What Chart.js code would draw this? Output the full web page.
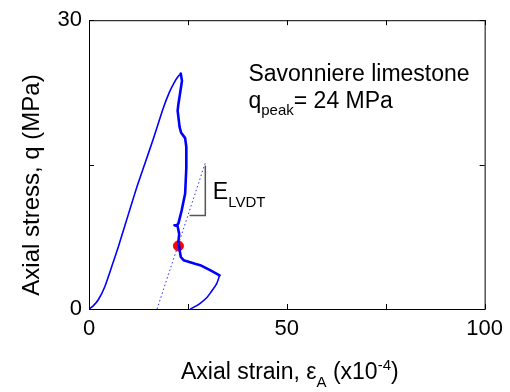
<!DOCTYPE html>
<html>
<head>
<meta charset="utf-8">
<script src="https://cdn.jsdelivr.net/npm/chart.js@4"></script>
<style>
  html, body { margin: 0; padding: 0; background: #fff; }
  #wrap { width: 510px; height: 392px; }
</style>
</head>
<body>
<div id="wrap"><canvas id="chart"></canvas></div>
<script>
// loading branch (thin)
const loadStrain = [0, 1.0, 2.35, 4.05, 5.75, 7.4, 9.1, 10.6, 12.2, 14.2, 16.2, 18.8, 20.3, 21.5, 22.6, 23.2];
const loadStress = [0, 0.3, 0.96, 2.37, 4.41, 6.45, 8.7, 10.7, 12.8, 15.2, 17.6, 20.9, 22.5, 23.5, 24.2, 24.45];

// post-peak branch (thick)
const postStrain = [23.2, 23.5, 22.6, 22.4, 22.9, 23.3, 24.3, 24.6, 24.6, 24.3, 23.4, 22.6, 22.2, 21.6, 22.4, 22.8, 22.6, 23.0, 23.2, 23.9, 26.8, 28.1, 30.6, 33.0];
const postStress = [24.45, 23.7, 21.3, 20.6, 18.9, 18.3, 17.75, 16.8, 14.7, 12.0, 10.2, 8.9, 8.7, 8.7, 8.6, 7.8, 7.0, 5.9, 5.4, 5.07, 4.7, 4.55, 4.03, 3.5];

// unloading branch (thin)
const unloadStrain = [33.0, 32.3, 30.6, 29.8, 28.1, 27.0, 25.6];
const unloadStress = [3.5, 2.66, 1.62, 1.2, 0.59, 0.3, 0.0];

// LVDT modulus line and its triangle
const lvdtStrain = [17.2, 29.4];
const lvdtStress = [0, 15.2];
const triStrain = [25.4, 29.4, 29.4];
const triStress = [9.7, 9.7, 14.9];

// marked point
const markStrain = [22.6];
const markStress = [6.55];

const xTickValues = [0, 25, 50, 75, 100];
const xTickLabels = ['0', '', '50', '', '100'];
const yTickValues = [0, 15, 30];
const yTickLabels = ['0', '', '30'];

const FONT = '"Liberation Sans", Arial, sans-serif';

const pts = (xs, ys) => xs.map((x, i) => ({ x, y: ys[i] }));

// draw a run of text pieces with sub/superscripts
function drawRuns(ctx, runs, x, y, align) {
  let total = 0;
  runs.forEach(r => {
    ctx.font = `${r.size}px ${FONT}`;
    r.w = ctx.measureText(r.t).width;
    total += r.w;
  });
  let cx = align === 'center' ? x - total / 2 : x;
  runs.forEach(r => {
    ctx.font = `${r.size}px ${FONT}`;
    ctx.fillText(r.t, cx, y + (r.dy || 0));
    cx += r.w;
  });
}

const framePlugin = {
  id: 'frame',
  afterDatasetsDraw(chart) {
    const { ctx, chartArea: a, scales: { x, y } } = chart;
    ctx.save();
    ctx.strokeStyle = '#000';
    ctx.lineWidth = 1;
    ctx.strokeRect(a.left + 0.5, a.top + 0.5, a.right - a.left, a.bottom - a.top);
    const len = 5;
    ctx.beginPath();
    xTickValues.forEach(v => {
      const px = Math.round(x.getPixelForValue(v)) + 0.5;
      ctx.moveTo(px, a.bottom); ctx.lineTo(px, a.bottom - len);
      ctx.moveTo(px, a.top); ctx.lineTo(px, a.top + len);
    });
    yTickValues.forEach(v => {
      const py = Math.round(y.getPixelForValue(v)) + 0.5;
      ctx.moveTo(a.left, py); ctx.lineTo(a.left + len, py);
      ctx.moveTo(a.right, py); ctx.lineTo(a.right - len, py);
    });
    ctx.stroke();
    ctx.restore();
  },
  afterDraw(chart) {
    const { ctx, chartArea: a, scales: { x, y } } = chart;
    ctx.save();
    ctx.fillStyle = '#000';
    ctx.textBaseline = 'alphabetic';
    ctx.textAlign = 'left';

    // annotations
    drawRuns(ctx, [{ t: 'Savonniere limestone', size: 23 }], x.getPixelForValue(40.3), y.getPixelForValue(23.7), 'left');
    drawRuns(ctx, [
      { t: 'q', size: 23 },
      { t: 'peak', size: 15, dy: 7 },
      { t: '= 24 MPa', size: 23 }
    ], x.getPixelForValue(40.3), y.getPixelForValue(20.9), 'left');
    drawRuns(ctx, [
      { t: 'E', size: 23 },
      { t: 'LVDT', size: 15, dy: 8 }
    ], x.getPixelForValue(31.3), y.getPixelForValue(11.4), 'left');

    // x axis title
    drawRuns(ctx, [
      { t: 'Axial strain, \u03b5', size: 23 },
      { t: 'A', size: 15, dy: 8 },
      { t: ' (x10', size: 23 },
      { t: '-4', size: 15, dy: -9 },
      { t: ')', size: 23 }
    ], (a.left + a.right) / 2 + 3, 379, 'center');

    // y axis title
    ctx.translate(39, 185);
    ctx.rotate(-Math.PI / 2);
    drawRuns(ctx, [{ t: 'Axial stress, q (MPa)', size: 24 }], 0, 0, 'center');
    ctx.restore();
  }
};

new Chart(document.getElementById('chart'), {
  type: 'scatter',
  data: {
    datasets: [
      {
        data: pts(lvdtStrain, lvdtStress),
        showLine: true,
        borderColor: '#3030ff',
        borderWidth: 1,
        borderDash: [1.5, 2.5],
        pointRadius: 0
      },
      {
        data: pts(triStrain, triStress),
        showLine: true,
        borderColor: '#555555',
        borderWidth: 1.5,
        pointRadius: 0
      },
      {
        data: pts(loadStrain, loadStress),
        showLine: true,
        borderColor: '#0000ff',
        borderWidth: 1.6,
        borderJoinStyle: 'round',
        pointRadius: 0,
        tension: 0.2
      },
      {
        data: pts(postStrain, postStress),
        showLine: true,
        borderColor: '#0000ff',
        borderWidth: 2.6,
        borderJoinStyle: 'round',
        borderCapStyle: 'round',
        pointRadius: 0
      },
      {
        data: pts(unloadStrain, unloadStress),
        showLine: true,
        borderColor: '#0000ff',
        borderWidth: 1.6,
        borderJoinStyle: 'round',
        pointRadius: 0,
        tension: 0.3
      },
      {
        data: pts(markStrain, markStress),
        showLine: false,
        backgroundColor: '#ff0000',
        borderColor: '#ff0000',
        pointRadius: 5
      }
    ]
  },
  options: {
    responsive: true,
    maintainAspectRatio: false,
    animation: false,
    layout: { padding: { left: 0, right: 25, top: 19, bottom: 0 } },
    plugins: {
      legend: { display: false },
      tooltip: { enabled: false }
    },
    scales: {
      x: {
        type: 'linear',
        min: 0,
        max: 100,
        afterBuildTicks: s => { s.ticks = xTickValues.map(v => ({ value: v })); },
        afterFit: s => { s.height = 83; },
        grid: { display: false, drawTicks: false },
        border: { display: false },
        ticks: {
          color: '#000',
          font: { family: FONT, size: 22 },
          padding: 7,
          maxRotation: 0,
          autoSkip: false,
          callback: (v, i) => xTickLabels[i]
        }
      },
      y: {
        type: 'linear',
        min: 0,
        max: 30,
        afterBuildTicks: s => { s.ticks = yTickValues.map(v => ({ value: v })); },
        afterFit: s => { s.width = 89; },
        grid: { display: false, drawTicks: false },
        border: { display: false },
        ticks: {
          color: '#000',
          font: { family: FONT, size: 22 },
          padding: 7,
          autoSkip: false,
          callback: (v, i) => yTickLabels[i]
        }
      }
    }
  },
  plugins: [framePlugin]
});
</script>
</body>
</html>
